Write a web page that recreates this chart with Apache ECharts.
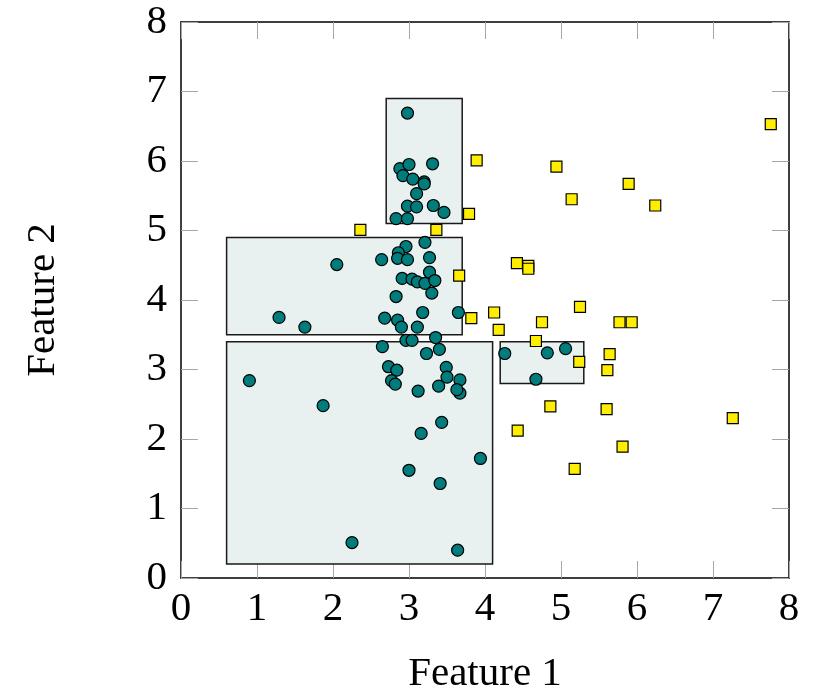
<!DOCTYPE html>
<html>
<head>
<meta charset="utf-8">
<script src="https://cdn.jsdelivr.net/npm/echarts@6/dist/echarts.min.js"></script>
<style>html,body{margin:0;padding:0;background:#fff;}#chart{width:820px;height:695px;}</style>
</head>
<body>
<div id="chart"></div>
<script>
// Axis ticks
const xTicks = [0, 1, 2, 3, 4, 5, 6, 7, 8];
const yTicks = [0, 1, 2, 3, 4, 5, 6, 7, 8];
const xTitle = 'Feature 1';
const yTitle = 'Feature 2';

// Boxes: [x0, y0, x1, y1]
const boxes = [
  [2.7, 5.1, 3.7, 6.9],
  [0.6, 3.5, 3.7, 4.9],
  [0.6, 0.2, 4.1, 3.4],
  [4.2, 2.8, 5.3, 3.4]
];

// Class A (teal circles)
const classA = [
  [2.98,6.69],[2.88,5.89],[3.00,5.95],[3.31,5.96],[2.92,5.79],[3.05,5.74],[3.20,5.70],[3.20,5.67],
  [3.10,5.53],[2.98,5.35],[3.10,5.34],[3.32,5.36],[3.46,5.26],[2.83,5.17],[2.98,5.17],
  [3.21,4.83],[2.96,4.77],[2.86,4.68],[2.85,4.60],[2.98,4.58],[2.64,4.58],[3.27,4.61],[2.05,4.51],
  [3.27,4.40],[2.91,4.31],[3.04,4.30],[3.11,4.26],[3.21,4.24],[3.34,4.28],[3.30,4.10],[2.83,4.05],
  [3.65,3.82],[3.18,3.82],[1.29,3.75],[2.68,3.74],[2.85,3.71],[2.90,3.61],[3.11,3.61],[1.63,3.61],
  [3.35,3.46],[2.96,3.42],[3.04,3.42],
  [2.65,3.33],[3.40,3.29],[3.23,3.23],[2.73,3.04],[2.84,2.99],[3.49,3.03],[3.50,2.89],[3.67,2.85],
  [3.67,2.66],[3.63,2.71],[2.77,2.84],[2.82,2.79],[3.39,2.76],[0.90,2.84],[3.12,2.69],[1.87,2.48],
  [3.43,2.24],[3.16,2.08],[3.94,1.72],[3.00,1.55],[3.41,1.36],[2.25,0.51],[3.64,0.40],
  [4.26,3.23],[4.82,3.24],[5.06,3.30],[4.67,2.86]
];

// Class B (yellow squares)
const classB = [
  [2.36,5.01],[3.36,5.01],[3.79,5.24],[3.89,6.01],[4.94,5.92],[5.14,5.45],[5.89,5.67],[6.24,5.36],
  [7.76,6.53],[3.66,4.35],[4.42,4.53],[4.57,4.49],[4.57,4.45],[4.12,3.82],[3.82,3.74],[4.18,3.57],
  [5.25,3.90],[4.75,3.68],[5.77,3.68],[5.93,3.68],[4.67,3.41],[5.64,3.22],[5.24,3.11],[5.61,2.99],
  [4.86,2.47],[5.60,2.43],[7.26,2.30],[4.43,2.12],[5.81,1.89],[5.18,1.57]
];

const FONT = '"Liberation Serif", "DejaVu Serif", serif';
const chart = echarts.init(document.getElementById('chart'), null, {renderer: 'canvas'});

const tickStyle = {show: true, inside: true, length: 17, lineStyle: {color: '#a6a6a6', width: 1}};
const baseAxis = {
  type: 'value', min: xTicks[0], max: xTicks[xTicks.length - 1], interval: 1,
  splitLine: {show: false},
  axisLine: {show: true, onZero: false, lineStyle: {color: '#000', width: 1.5}},
  axisTick: tickStyle
};

chart.setOption({
  animation: false,
  backgroundColor: '#fff',
  grid: {left: 181, right: 31, top: 22, bottom: 117, show: false, containLabel: false, outerBoundsMode: 'none'},
  xAxis: [
    Object.assign({}, baseAxis, {
      position: 'bottom',
      axisLabel: {color: '#000', fontFamily: FONT, fontSize: 41, margin: 11},
      name: xTitle, nameLocation: 'middle', nameGap: 76,
      nameTextStyle: {color: '#000', fontFamily: FONT, fontSize: 41}
    }),
    Object.assign({}, baseAxis, {position: 'top', axisLabel: {show: false}})
  ],
  yAxis: [
    Object.assign({}, baseAxis, {
      min: yTicks[0], max: yTicks[yTicks.length - 1],
      position: 'left',
      axisLabel: {color: '#000', fontFamily: FONT, fontSize: 41, margin: 14},
      name: yTitle, nameLocation: 'middle', nameGap: 117,
      nameTextStyle: {color: '#000', fontFamily: FONT, fontSize: 41}
    }),
    Object.assign({}, baseAxis, {
      min: yTicks[0], max: yTicks[yTicks.length - 1],
      position: 'right', axisLabel: {show: false}
    })
  ],
  series: [
    {
      type: 'custom',
      z: 1,
      data: boxes,
      renderItem: function (params, api) {
        const p0 = api.coord([api.value(0), api.value(3)]);
        const p1 = api.coord([api.value(2), api.value(1)]);
        return {
          type: 'rect',
          shape: {x: p0[0], y: p0[1], width: p1[0] - p0[0], height: p1[1] - p0[1]},
          style: {fill: '#e8f1f0', stroke: '#1a1a1a', lineWidth: 1.5}
        };
      },
      encode: {x: [0, 2], y: [1, 3]}
    },
    {
      type: 'scatter',
      z: 3,
      data: classA,
      symbol: 'circle',
      symbolSize: 12,
      itemStyle: {color: '#007c7c', borderColor: '#000', borderWidth: 1.2, opacity: 1}
    },
    {
      type: 'scatter',
      z: 3,
      data: classB,
      symbol: 'rect',
      symbolSize: 11,
      itemStyle: {color: '#ffee00', borderColor: '#000', borderWidth: 1.2, opacity: 1}
    }
  ]
});
</script>
</body>
</html>
